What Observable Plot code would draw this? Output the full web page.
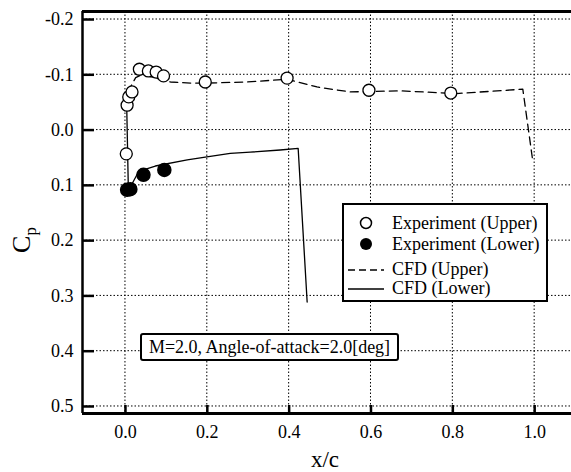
<!DOCTYPE html>
<html>
<head>
<meta charset="utf-8">
<script src="https://cdn.jsdelivr.net/npm/d3@7"></script>
<script src="https://cdn.jsdelivr.net/npm/@observablehq/plot@0.6"></script>
<style>
  html, body { margin: 0; padding: 0; background: white; }
  #wrap { position: relative; width: 571px; height: 472px; overflow: hidden; font-family: "Liberation Serif", "Times New Roman", serif; }
  .legend { position: absolute; left: 342px; top: 203px; width: 202px; height: 95px; border: 2px solid black; background: white; }
  .row { position: absolute; left: 0; height: 20px; font-size: 18px; line-height: 20px; white-space: nowrap; }
  .row svg { position: absolute; left: 0; top: 0; }
  .row span { position: absolute; left: 48px; top: 0; }
  .note { position: absolute; left: 140px; top: 333px; width: 255px; height: 24px; border: 2px solid black; border-radius: 3px; background: white; font-size: 18px; line-height: 24px; text-align: center; white-space: nowrap; }
</style>
</head>
<body>
<div id="wrap"></div>
<script>
// Axis ticks
const xTicks = [0.0, 0.2, 0.4, 0.6, 0.8, 1.0];
const yTicks = [-0.2, -0.1, 0.0, 0.1, 0.2, 0.3, 0.4, 0.5];
const xDomain = [-0.105, 1.09];
const yDomain = [-0.2145, 0.5127];

// Experiment (Upper) - open circles
const expUpperX = [0.002, 0.004, 0.008, 0.016, 0.034, 0.056, 0.075, 0.093, 0.195, 0.395, 0.595, 0.795];
const expUpperCp = [0.043, -0.045, -0.060, -0.069, -0.110, -0.107, -0.105, -0.098, -0.087, -0.094, -0.072, -0.067];

// Experiment (Lower) - filled circles
const expLowerX = [0.004, 0.012, 0.044, 0.095];
const expLowerCp = [0.108, 0.107, 0.081, 0.072];

// CFD (Upper) - dashed
const cfdUpperX = [0.003, 0.010, 0.025, 0.040, 0.070, 0.110, 0.159, 0.195, 0.298, 0.395, 0.468, 0.549, 0.671, 0.809, 0.971, 0.995];
const cfdUpperCp = [-0.045, -0.075, -0.095, -0.100, -0.095, -0.087, -0.085, -0.085, -0.087, -0.092, -0.078, -0.069, -0.071, -0.066, -0.074, 0.054];

// CFD (Lower) - solid
const cfdLowerX = [0.003, 0.007, 0.012, 0.030, 0.040, 0.073, 0.151, 0.195, 0.256, 0.305, 0.378, 0.422, 0.444];
const cfdLowerCp = [-0.045, 0.105, 0.103, 0.078, 0.073, 0.065, 0.054, 0.049, 0.042, 0.040, 0.036, 0.033, 0.311];

const zip = (xs, ys) => xs.map((x, i) => ({x, cp: ys[i]}));
const expUpper = zip(expUpperX, expUpperCp);
const expLower = zip(expLowerX, expLowerCp);
const cfdUpper = zip(cfdUpperX, cfdUpperCp);
const cfdLower = zip(cfdLowerX, cfdLowerCp);

const fmt = d => d.toFixed(1);

const chart = Plot.plot({
  width: 571,
  height: 472,
  marginLeft: 82,
  marginRight: 0,
  marginTop: 11,
  marginBottom: 59,
  x: {domain: xDomain},
  y: {domain: yDomain, reverse: true},
  style: {fontFamily: "Liberation Serif, Times New Roman, serif", fontSize: "18px", color: "black", background: "white"},
  marks: [
    Plot.axisX(xTicks, {tickSize: -8, tickPadding: 20, strokeWidth: 2.5, tickFormat: fmt, label: null, fontSize: 18}),
    Plot.axisY(yTicks, {tickSize: -12, tickPadding: 21, strokeWidth: 2.5, tickFormat: fmt, label: null, fontSize: 18}),
    Plot.ruleX([xDomain[0]], {strokeWidth: 2.5}),
    Plot.ruleY([yDomain[0]], {strokeWidth: 3}),
    Plot.ruleY([yDomain[1]], {strokeWidth: 3}),
    Plot.line(cfdUpper, {x: "x", y: "cp", stroke: "black", strokeWidth: 1.3, strokeDasharray: "8,5"}),
    Plot.line(cfdLower, {x: "x", y: "cp", stroke: "black", strokeWidth: 1.3}),
    Plot.dot(expUpper, {x: "x", y: "cp", r: 6, stroke: "black", strokeWidth: 1.3, fill: "white"}),
    Plot.dot(expLower, {x: "x", y: "cp", r: 6.5, fill: "black", stroke: "black"})
  ]
});

const wrap = document.getElementById("wrap");
wrap.appendChild(chart);

// Dotted grid lines, positioned through Plot's own scales
const svg = d3.select(chart);
const sx = chart.scale("x");
const sy = chart.scale("y");
const [xa, xb] = sx.range;
const [ya, yb] = sy.range;
const x0 = Math.min(xa, xb), x1 = Math.max(xa, xb);
const y0 = Math.min(ya, yb), y1 = Math.max(ya, yb);
const grid = svg.insert("g", "g").attr("stroke", "black").attr("stroke-width", 1).attr("stroke-dasharray", "1.5,2").attr("fill", "none");
grid.selectAll("line.gx").data(xTicks).join("line")
  .attr("class", "gx")
  .attr("x1", d => sx.apply(d)).attr("x2", d => sx.apply(d))
  .attr("y1", y0).attr("y2", y1);
grid.selectAll("line.gy").data(yTicks).join("line")
  .attr("class", "gy")
  .attr("x1", x0).attr("x2", x1)
  .attr("y1", d => sy.apply(d)).attr("y2", d => sy.apply(d));

// Axis titles
svg.append("text")
  .attr("x", 325).attr("y", 467)
  .attr("text-anchor", "middle")
  .attr("font-size", 23)
  .attr("fill", "black")
  .text("x/c");
const cp = svg.append("text")
  .attr("transform", "translate(30,240) rotate(-90)")
  .attr("text-anchor", "middle")
  .attr("fill", "black");
cp.append("tspan").attr("font-size", 26).text("C");
cp.append("tspan").attr("font-size", 17).attr("dy", 6).text("p");

// Legend
const legendItems = [
  {label: "Experiment (Upper)", kind: "open"},
  {label: "Experiment (Lower)", kind: "filled"},
  {label: "CFD (Upper)", kind: "dashed"},
  {label: "CFD (Lower)", kind: "solid"}
];
const legendTops = [8, 29, 54, 73];
const legend = document.createElement("div");
legend.className = "legend";
legendItems.forEach((it, i) => {
  const row = document.createElement("div");
  row.className = "row";
  row.style.top = legendTops[i] + "px";
  row.style.width = "200px";
  let sym = "";
  if (it.kind === "open") sym = '<circle cx="22" cy="10" r="5.5" fill="white" stroke="black" stroke-width="1.5"/>';
  if (it.kind === "filled") sym = '<circle cx="22" cy="10" r="6" fill="black"/>';
  if (it.kind === "dashed") sym = '<line x1="4" x2="40" y1="11" y2="11" stroke="black" stroke-width="1.3" stroke-dasharray="7,4"/>';
  if (it.kind === "solid") sym = '<line x1="4" x2="40" y1="11" y2="11" stroke="black" stroke-width="1.3"/>';
  row.innerHTML = '<svg width="44" height="20">' + sym + '</svg><span>' + it.label + '</span>';
  legend.appendChild(row);
});
wrap.appendChild(legend);

// Annotation
const note = document.createElement("div");
note.className = "note";
note.textContent = "M=2.0, Angle-of-attack=2.0[deg]";
wrap.appendChild(note);
</script>
</body>
</html>
